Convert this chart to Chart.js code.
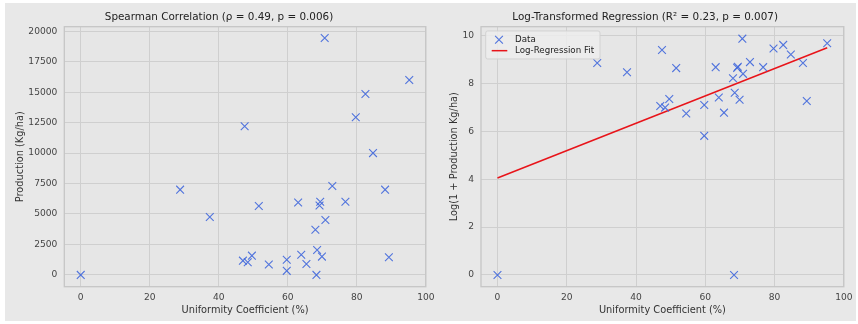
<!DOCTYPE html>
<html><head><meta charset="utf-8">
<script src="https://cdn.jsdelivr.net/npm/chart.js@4.4.0/dist/chart.umd.min.js"></script>
<style>
html,body{margin:0;padding:0;background:#fff;}
#fig{position:absolute;left:5px;top:3px;width:851px;height:318px;background:#e8e8e8;}
#c1{position:absolute;left:0;top:0;}
#c2{position:absolute;left:440px;top:0;}
</style></head><body>
<div id="fig"></div>
<canvas id="c1" width="440" height="324"></canvas>
<canvas id="c2" width="418" height="324"></canvas>
<script>
// ---- data ----
const uniformity = [0, 28.8, 37.4, 47.5, 47.0, 48.4, 49.6, 51.6, 54.5, 59.7, 59.7, 63.0, 63.9, 65.4, 68.0, 68.5, 68.3, 69.4, 69.2, 69.9, 70.9, 70.7, 72.9, 76.7, 79.7, 82.5, 84.7, 88.2, 89.3, 95.2];
const production = [0, 7000, 4750, 12200, 1170, 1040, 1580, 5650, 850, 1250, 330, 5950, 1650, 890, 3700, 2050, 0, 6000, 5700, 1500, 4500, 19450, 7300, 6000, 12950, 14850, 10000, 7000, 1450, 16000];
const logProduction = [0, 8.85, 8.47, 9.40, 7.06, 6.99, 7.35, 8.64, 6.74, 7.10, 5.81, 8.68, 7.41, 6.78, 8.22, 7.61, 0, 8.70, 8.65, 7.32, 8.40, 9.87, 8.89, 8.68, 9.46, 9.61, 9.21, 8.85, 7.27, 9.68];
const fitX = [0, 95.2];
const fitY = [4.05, 9.49];
const xTicks = [0, 20, 40, 60, 80, 100];
const yTicksLeft = [0, 2500, 5000, 7500, 10000, 12500, 15000, 17500, 20000];
const yTicksRight = [0, 2, 4, 6, 8, 10];
const titleLeft = 'Spearman Correlation (ρ = 0.49, p = 0.006)';
const titleRight = 'Log-Transformed Regression (R² = 0.23, p = 0.007)';
const xLabel = 'Uniformity Coefficient (%)';
const yLabelLeft = 'Production (Kg/ha)';
const yLabelRight = 'Log(1 + Production Kg/ha)';

const FONT = 'DejaVu Sans';
const markerColor = 'rgba(60,100,220,0.88)';

const frame = {
  id: 'frame',
  beforeDraw(chart) {
    const {ctx, chartArea: a} = chart;
    ctx.save();
    ctx.fillStyle = '#e6e6e6';
    ctx.fillRect(a.left, a.top, a.right - a.left, a.bottom - a.top);
    ctx.restore();
  },
  beforeDatasetsDraw(chart) {
    const {ctx, chartArea: a} = chart;
    ctx.save();
    ctx.strokeStyle = '#c6c6c6';
    ctx.lineWidth = 1.3;
    ctx.strokeRect(a.left, a.top, a.right - a.left, a.bottom - a.top);
    ctx.restore();
  },
  afterDatasetsDraw(chart, args, opts) {
    if (!opts.legend) return;
    const {ctx, chartArea: a} = chart;
    const bx = a.left + 4.7, by = a.top + 4.3, bw = 114.3, bh = 28;
    ctx.save();
    ctx.fillStyle = 'rgba(236,236,236,0.85)';
    ctx.strokeStyle = '#d2d2d2';
    ctx.lineWidth = 1;
    ctx.beginPath();
    ctx.roundRect(bx, by, bw, bh, 2);
    ctx.fill();
    ctx.stroke();
    const ds = chart.data.datasets;
    const mx = bx + 13.3, my = by + 8.7, r = 5.5 * Math.SQRT1_2;
    ctx.strokeStyle = markerColor;
    ctx.lineWidth = 1.1;
    ctx.beginPath();
    ctx.moveTo(mx - r, my - r); ctx.lineTo(mx + r, my + r);
    ctx.moveTo(mx - r, my + r); ctx.lineTo(mx + r, my - r);
    ctx.stroke();
    ctx.strokeStyle = ds[1].borderColor;
    ctx.lineWidth = 1.5;
    ctx.beginPath();
    ctx.moveTo(bx + 6, by + 19.7); ctx.lineTo(bx + 21.6, by + 19.7);
    ctx.stroke();
    ctx.fillStyle = '#222';
    ctx.font = '8.7px "' + FONT + '"';
    ctx.textBaseline = 'middle';
    ctx.fillText(ds[0].label, bx + 29.3, my);
    ctx.fillText(ds[1].label, bx + 29.3, by + 19.7);
    ctx.restore();
  }
};

function setTicks(arr) {
  return function(scale) { scale.ticks = arr.map(v => ({value: v})); };
}

function makeOptions(cfg) {
  return {
    responsive: false,
    animation: false,
    devicePixelRatio: 1,
    layout: {padding: cfg.padding},
    plugins: {
      legend: {display: false},
      tooltip: {enabled: false},
      frame: {legend: cfg.legend},
      title: {
        display: true, text: cfg.title, color: '#222',
        font: {family: FONT, size: 10.4, weight: 'normal'},
        padding: {top: 7, bottom: 3.2}
      }
    },
    scales: {
      x: {
        type: 'linear', min: -4.76, max: 100,
        afterBuildTicks: setTicks(xTicks),
        afterFit(s) { s.height = 34; },
        grid: {color: '#cfcfcf', lineWidth: 1, drawTicks: false},
        border: {display: false},
        ticks: {color: '#444', padding: 5.5, font: {family: FONT, size: 9.1}, callback: v => String(v)},
        title: {display: true, text: xLabel, color: '#333', font: {family: FONT, size: 9.8}, padding: {top: 0, bottom: 4.8}}
      },
      y: {
        type: 'linear', min: cfg.ymin, max: cfg.ymax,
        afterBuildTicks: setTicks(cfg.yTicks),
        afterFit(s) { s.width = cfg.yWidth; },
        grid: {color: '#cfcfcf', lineWidth: 1, drawTicks: false},
        border: {display: false},
        ticks: {color: '#444', padding: 7, font: {family: FONT, size: 9.1}, callback: v => String(v)},
        title: {display: true, text: cfg.yLabel, color: '#333', font: {family: FONT, size: 9.8}, padding: {top: cfg.yTitlePad, bottom: 0}}
      }
    }
  };
}

function pts(xs, ys) { return xs.map((x, i) => ({x: x, y: ys[i]})); }

new Chart(document.getElementById('c1'), {
  type: 'scatter',
  data: {datasets: [{
    label: 'Data', data: pts(uniformity, production),
    pointStyle: 'crossRot', pointRadius: 5.5, borderColor: markerColor, backgroundColor: markerColor, borderWidth: 1.1
  }]},
  options: makeOptions({
    padding: {left: 8, right: 10, top: 4, bottom: 3.3},
    title: titleLeft, ymin: -970, ymax: 20380, yTicks: yTicksLeft, yWidth: 56.3,
    yLabel: yLabelLeft, yTitlePad: 6.1, legend: false
  }),
  plugins: [frame]
});

new Chart(document.getElementById('c2'), {
  type: 'scatter',
  data: {datasets: [{
    label: 'Data', data: pts(uniformity, logProduction),
    pointStyle: 'crossRot', pointRadius: 5.5, borderColor: markerColor, backgroundColor: markerColor, borderWidth: 1.1
  }, {
    label: 'Log-Regression Fit', type: 'line', data: pts(fitX, fitY),
    borderColor: '#e8141a', borderWidth: 1.5, pointRadius: 0, fill: false
  }]},
  options: makeOptions({
    padding: {left: 4, right: 11.7, top: 4, bottom: 3.3},
    title: titleRight, ymin: -0.49, ymax: 10.37, yTicks: yTicksRight, yWidth: 37,
    yLabel: yLabelRight, yTitlePad: 4.1, legend: true
  }),
  plugins: [frame]
});
</script>
</body></html>
